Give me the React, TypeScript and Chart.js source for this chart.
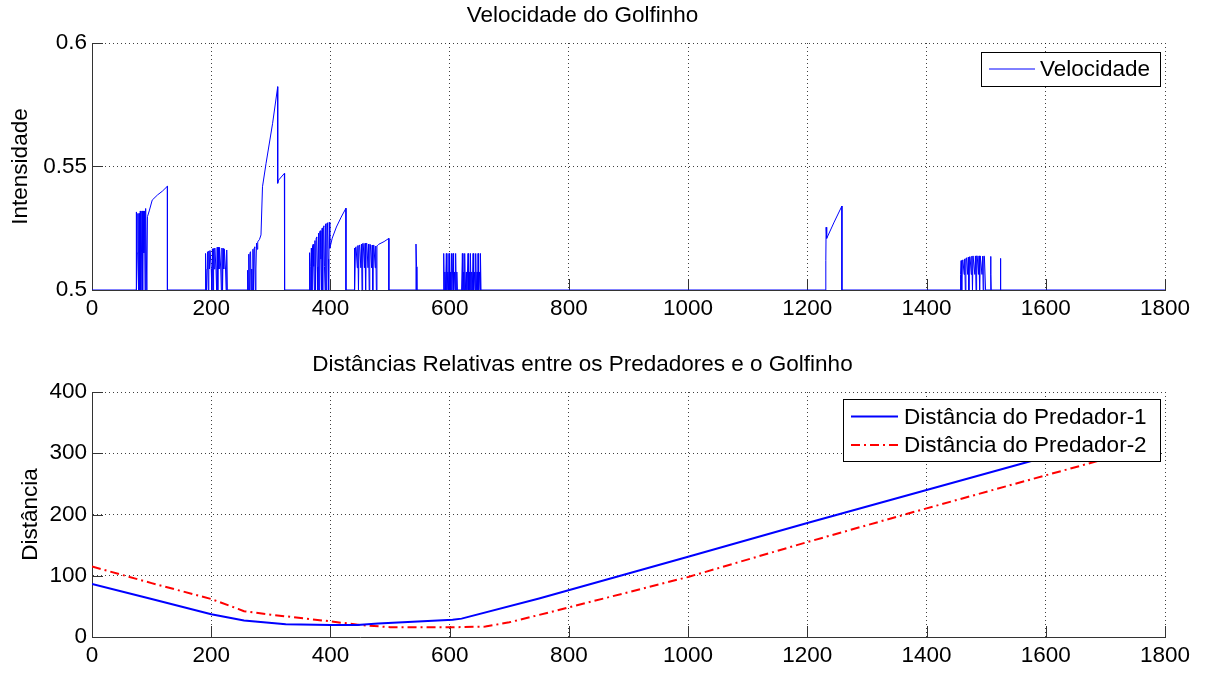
import React, { useEffect, useRef } from "react";
import { Chart, registerables } from "chart.js";

Chart.register(...registerables);

const FONT = "'Liberation Sans', Arial, Helvetica, sans-serif";
const FS = 22.5;

// ---------- Top chart: Velocidade do Golfinho ----------
const topTitle = "Velocidade do Golfinho";
const topYLabel = "Intensidade";
const velLabel = "Velocidade";
const xTickStep = 200;
const xMax = 1800;
const velYMin = 0.5;
const velYMax = 0.6;
const velYStep = 0.05;

// [tempo, intensidade] samples (baseline 0.5 between bursts)
const velStart: [number, number][] = [[0, 0.5]];
const burst1: [number, number][] = [
  [74, 0.5], [74, 0.5316], [75, 0.5], [76, 0.515], [77, 0.531], [78, 0.5], [79, 0.531],
  [80, 0.5], [81, 0.532], [82, 0.5], [83, 0.515], [84, 0.532], [85, 0.5], [86, 0.532],
  [87, 0.515], [88, 0.532], [89, 0.5], [90, 0.533], [92, 0.5],
  [93, 0.5297], [96, 0.532], [101, 0.5364], [110, 0.5385], [118, 0.540], [126.5, 0.542],
  [126.5, 0.5],
];
const burst2: [number, number][] = [
  [190, 0.5], [190, 0.5085], [191, 0.5148], [192, 0.5], [193, 0.5085], [194, 0.5155],
  [195, 0.5], [196, 0.5158], [197, 0.5085], [198, 0.516], [200, 0.5085], [201, 0.5],
  [202, 0.5167], [203, 0.5], [204, 0.5168], [205, 0.5085], [206, 0.517], [208, 0.5085],
  [209, 0.5], [210, 0.5173], [211, 0.5], [212, 0.5173], [213, 0.5085], [214, 0.5172],
  [216, 0.5085], [217, 0.5], [218, 0.517], [219, 0.5], [220, 0.5168], [221, 0.5085],
  [222, 0.5165], [224, 0.5085], [225, 0.5], [226, 0.5162], [227, 0.5],
];
const burst3: [number, number][] = [
  [261, 0.5], [261, 0.508], [262, 0.5], [263, 0.5145], [264, 0.5], [265, 0.515],
  [266, 0.5155], [267, 0.5], [268, 0.5085], [269, 0.5], [270, 0.5165], [271, 0.5],
  [272, 0.517], [273, 0.5175], [274, 0.5], [275, 0.5085], [276, 0.519], [277, 0.5165],
  [278, 0.5195], [281, 0.5205], [283.5, 0.5223],
  [286, 0.5418], [292, 0.5513], [303, 0.5675], [311.5, 0.5823], [311.5, 0.5432],
  [313, 0.5445], [322.7, 0.5472], [322.7, 0.52], [323.5, 0.5],
];
const burst4: [number, number][] = [
  [365, 0.5], [365, 0.5151], [366, 0.5], [367, 0.5095], [368, 0.517], [369, 0.5],
  [370, 0.518], [371, 0.5185], [372, 0.5095], [373, 0.5], [374, 0.52], [375, 0.5],
  [376, 0.521], [377, 0.5215], [378, 0.5095], [379, 0.5], [380, 0.523], [381, 0.5],
  [382, 0.5235], [383, 0.524], [384, 0.5125], [385, 0.5], [386, 0.525], [387, 0.5],
  [388, 0.5255], [389, 0.526], [390, 0.5095], [391, 0.5], [392, 0.5268], [393, 0.5],
  [394, 0.527], [395, 0.5272], [396, 0.5125], [397, 0.5], [398, 0.5274],
  [399, 0.5169], [403, 0.521], [410, 0.5255], [418, 0.5295], [426, 0.5331], [426, 0.5],
];
const burst5: [number, number][] = [
  [440, 0.5], [440, 0.517], [441, 0.5], [442, 0.5172], [443, 0.5175], [445, 0.509],
  [446, 0.518], [447, 0.5], [448, 0.5181], [449, 0.5182], [451, 0.509], [452, 0.5186],
  [453, 0.5], [454, 0.5188], [455, 0.5189], [457, 0.509], [458, 0.5189], [459, 0.5],
  [460, 0.5189], [461, 0.5188], [463, 0.509], [464, 0.5186], [465, 0.5], [466, 0.5185],
  [467, 0.5184], [469, 0.509], [470, 0.5182], [471, 0.5], [472, 0.5181], [473, 0.518],
  [475, 0.509], [476, 0.5178], [477, 0.5], [478, 0.5179], [479, 0.518], [481, 0.5185],
  [490, 0.5196], [498, 0.5209], [498, 0.5],
];
const burst6: [number, number][] = [
  [543, 0.5], [543.5, 0.5186], [544.5, 0.5094], [545, 0.5],
];
const burst7: [number, number][] = [
  [590, 0.5], [590, 0.5148], [591, 0.5], [592, 0.5073], [593, 0.5], [594.4, 0.5148],
  [595.4, 0.5], [597, 0.5073], [598, 0.5], [598.9, 0.5148], [599.9, 0.5], [601, 0.5073],
  [602, 0.5], [603, 0.5148], [604, 0.5], [605.6, 0.5148], [606.6, 0.5], [608, 0.5073],
  [609, 0.5], [610, 0.5148], [611, 0.5], [612, 0.5073], [613, 0.5],
  [620, 0.5], [621.3, 0.5148], [622.3, 0.5], [623.5, 0.5073], [624.2, 0.5], [625.2, 0.5148],
  [626.2, 0.5], [628, 0.5073], [629, 0.5], [630.8, 0.5148], [631.8, 0.5], [633, 0.5073],
  [634, 0.5], [634.8, 0.5148], [635.8, 0.5], [637, 0.5073], [638, 0.5], [639.3, 0.5148],
  [640.3, 0.5], [642, 0.5073], [643, 0.5], [643.7, 0.5148], [644.7, 0.5], [646, 0.5073],
  [647, 0.5], [647.6, 0.5148], [648.6, 0.5], [650, 0.5073], [651, 0.5], [651.6, 0.5148],
  [652.6, 0.5],
];
const burst8: [number, number][] = [
  [1231, 0.5], [1231, 0.512], [1231.5, 0.5254], [1232.5, 0.5209], [1245, 0.5275],
  [1258, 0.534], [1258, 0.5],
];
const burst9: [number, number][] = [
  [1457, 0.5], [1457, 0.5063], [1458, 0.5119], [1459, 0.5], [1460, 0.512], [1461, 0.5122],
  [1463, 0.5063], [1464, 0.5126], [1465, 0.5], [1466, 0.5128], [1467, 0.513], [1469, 0.5063],
  [1470, 0.5133], [1471, 0.5], [1472, 0.5134], [1473, 0.5135], [1475, 0.5063], [1476, 0.5137],
  [1477, 0.5], [1478, 0.5138], [1479, 0.5138], [1481, 0.5063], [1482, 0.5138], [1483, 0.5],
  [1484, 0.5138], [1485, 0.5138], [1487, 0.5063], [1488, 0.5138], [1489, 0.5], [1490, 0.5138],
  [1491, 0.5138], [1493, 0.5063], [1494, 0.5137], [1495, 0.5], [1496, 0.5137], [1497, 0.5137],
  [1499, 0.5],
  [1507, 0.5], [1507.5, 0.5136], [1508, 0.5063], [1508.5, 0.5],
  [1523.5, 0.5], [1524, 0.5128], [1524.5, 0.5],
];
const velEnd: [number, number][] = [[1800, 0.5]];

// ---------- Bottom chart: distances ----------
const bottomTitle = "Distâncias Relativas entre os Predadores e o Golfinho";
const bottomYLabel = "Distância";
const dist1Label = "Distância do Predador-1";
const dist2Label = "Distância do Predador-2";
const distYMin = 0;
const distYMax = 400;
const distYStep = 100;

const dist1Time = [0, 100, 200, 255, 325, 400, 445, 480, 605, 620, 750, 1000, 1200, 1400, 1600, 1750];
const dist1Value = [86.5, 62, 37, 27, 21, 19.6, 19.6, 22, 28, 30, 63, 131, 186, 240, 294, 334];
const dist2Time = [0, 100, 200, 245, 255, 300, 400, 450, 500, 600, 660, 700, 750, 1000, 1200, 1400, 1600, 1750];
const dist2Value = [115, 88, 62, 46, 42, 36.5, 25.5, 19.6, 16, 15.8, 17, 24, 36, 98, 155, 210, 264, 304];

const toXY = (pts: [number, number][]) => pts.map(([x, y]) => ({ x, y }));
const zip = (xs: number[], ys: number[]) => xs.map((x, i) => ({ x, y: ys[i] }));

// ---------- plugins ----------
const matlabPlugin = {
  id: "matlabDeco",
  beforeDatasetsDraw(chart: any) {
    const { ctx, chartArea, scales } = chart;
    const len = 11;
    ctx.save();
    ctx.strokeStyle = "#333";
    ctx.lineWidth = 1;
    ctx.beginPath();
    scales.x.ticks.forEach((t: any) => {
      const px = Math.round(scales.x.getPixelForValue(t.value)) + 0.5;
      ctx.moveTo(px, chartArea.bottom);
      ctx.lineTo(px, chartArea.bottom - len);
    });
    scales.y.ticks.forEach((t: any) => {
      const py = Math.round(scales.y.getPixelForValue(t.value)) + 0.5;
      ctx.moveTo(chartArea.left, py);
      ctx.lineTo(chartArea.left + len, py);
    });
    ctx.stroke();
    ctx.restore();
  },
  afterDraw(chart: any, _args: any, opts: any) {
    if (!opts || !opts.box) return;
    const { ctx } = chart;
    const b = opts.box;
    ctx.save();
    ctx.fillStyle = "#fff";
    ctx.fillRect(b.left, b.top, b.width, b.height);
    ctx.strokeStyle = "#000";
    ctx.lineWidth = 1;
    ctx.strokeRect(b.left + 0.5, b.top + 0.5, b.width, b.height);
    chart.data.datasets.forEach((ds: any, i: number) => {
      const y = b.top + opts.firstRow + i * opts.rowGap;
      ctx.beginPath();
      ctx.setLineDash(ds.borderDash || []);
      ctx.strokeStyle = ds.borderColor;
      ctx.lineWidth = ds.borderWidth;
      ctx.moveTo(b.left + opts.lineStart, y);
      ctx.lineTo(b.left + opts.lineStart + opts.lineLen, y);
      ctx.stroke();
      ctx.setLineDash([]);
      ctx.fillStyle = "#000";
      ctx.font = `${FS}px ${FONT}`;
      ctx.textBaseline = "middle";
      ctx.textAlign = "left";
      ctx.fillText(ds.label, b.left + opts.textStart, y + 1);
    });
    ctx.restore();
  },
};

function axisOpts(min: number, max: number, step: number, fit: (s: any) => void, extra: any = {}) {
  return {
    type: "linear",
    min,
    max,
    ticks: {
      stepSize: step,
      color: "#000",
      font: { size: FS, family: FONT },
      padding: 5,
      maxRotation: 0,
      autoSkip: false,
      callback: (v: number) => String(Number(v.toFixed(3))),
    },
    grid: { color: "rgba(0,0,0,0.75)", lineWidth: 1, drawTicks: false },
    border: { color: "#333", width: 1, dash: [1, 3] },
    afterFit: fit,
    ...extra,
  };
}

function baseOptions(title: string, titlePad: any, yLabel: string, yTitlePad: number, xFit: number, yMin: number, yMax: number, yStep: number, legend: any) {
  return {
    responsive: false,
    animation: false,
    events: [],
    layout: { padding: { left: 0, right: 42, top: 0, bottom: 0 } },
    elements: { point: { radius: 0 }, line: { tension: 0 } },
    plugins: {
      legend: { display: false },
      tooltip: { enabled: false },
      title: {
        display: true,
        text: title,
        color: "#000",
        font: { size: FS, weight: "normal", family: FONT },
        padding: titlePad,
      },
      matlabDeco: legend,
    },
    scales: {
      x: axisOpts(0, xMax, xTickStep, (s: any) => { s.height = xFit; }),
      y: axisOpts(yMin, yMax, yStep, (s: any) => { s.width = 92; }, {
        title: {
          display: true,
          text: yLabel,
          color: "#000",
          font: { size: FS, family: FONT },
          padding: { top: yTitlePad, bottom: 0 },
        },
      }),
    },
  };
}

export default function App() {
  const topRef = useRef<HTMLCanvasElement>(null);
  const botRef = useRef<HTMLCanvasElement>(null);

  useEffect(() => {
    Chart.defaults.font.family = FONT;
    Chart.defaults.color = "#000";
    const velData = [
      ...velStart, ...burst1, ...burst2, ...burst3, ...burst4, ...burst5,
      ...burst6, ...burst7, ...burst8, ...burst9, ...velEnd,
    ];
    const top = new Chart(topRef.current!, {
      type: "line",
      data: {
        datasets: [
          {
            label: velLabel,
            data: toXY(velData),
            borderColor: "#0000ff",
            borderWidth: 1,
            pointRadius: 0,
            fill: false,
          },
        ],
      },
      options: baseOptions(
        topTitle, { top: 2, bottom: 14 }, topYLabel, 7.5, 40, velYMin, velYMax, velYStep,
        { box: { left: 981, top: 52, width: 179, height: 34 }, firstRow: 17, rowGap: 28, lineStart: 8, lineLen: 46, textStart: 59 }
      ) as any,
      plugins: [matlabPlugin],
    });
    const bot = new Chart(botRef.current!, {
      type: "line",
      data: {
        datasets: [
          {
            label: dist1Label,
            data: zip(dist1Time, dist1Value),
            borderColor: "#0000ff",
            borderWidth: 2,
            pointRadius: 0,
            fill: false,
          },
          {
            label: dist2Label,
            data: zip(dist2Time, dist2Value),
            borderColor: "#ff0000",
            borderWidth: 2,
            borderDash: [9, 4, 2, 4],
            pointRadius: 0,
            fill: false,
          },
        ],
      },
      options: baseOptions(
        bottomTitle, { top: 21.5, bottom: 13.5 }, bottomYLabel, 17.5, 36, distYMin, distYMax, distYStep,
        { box: { left: 843, top: 69, width: 317, height: 62 }, firstRow: 17.5, rowGap: 28.5, lineStart: 8, lineLen: 47, textStart: 61 }
      ) as any,
      plugins: [matlabPlugin],
    });
    return () => {
      top.destroy();
      bot.destroy();
    };
  }, []);

  return (
    <div style={{ position: "absolute", left: 0, top: 0, width: 1207, height: 673, background: "#fff" }}>
      <canvas ref={topRef} width={1207} height={330} style={{ display: "block", position: "absolute", left: 0, top: 0 }} />
      <canvas ref={botRef} width={1207} height={343} style={{ display: "block", position: "absolute", left: 0, top: 330 }} />
    </div>
  );
}
